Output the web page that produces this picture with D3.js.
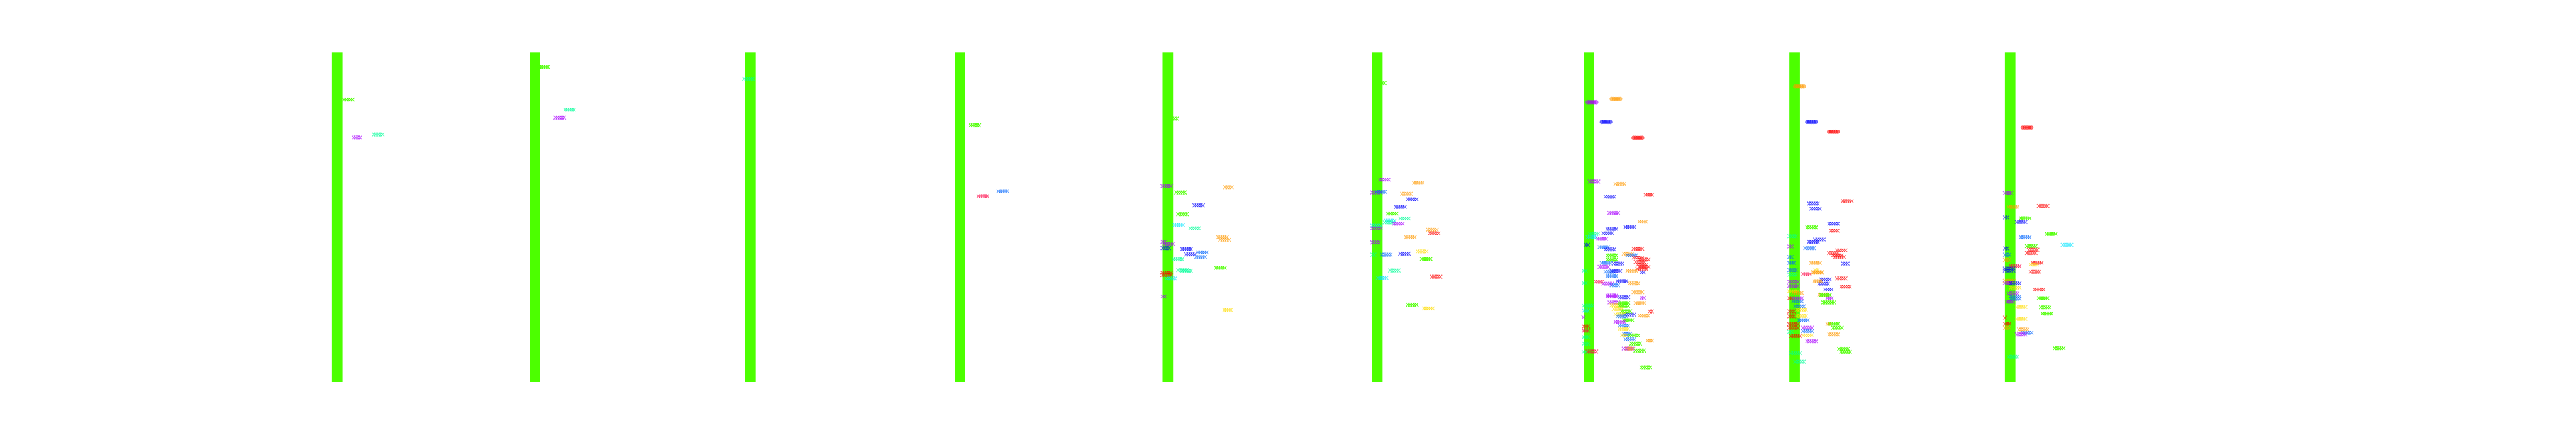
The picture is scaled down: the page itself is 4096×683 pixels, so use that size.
<!DOCTYPE html>
<html><head><meta charset="utf-8">
<script src="https://cdn.jsdelivr.net/npm/d3@7"></script>
<style>html,body{margin:0;padding:0;background:#fff;overflow:hidden}</style>
</head><body>
<svg id="chart" width="4096" height="683"></svg>
<script>
// Bar (group) positions along the x axis (figure inches)
const barX = [7.855, 12.46, 17.48, 22.36, 27.20, 32.08, 37.01, 41.80, 46.82];
const barRange = [0, 100];
// Colour keys
const colorKeys = ["R","O","Y","G","A","C","L","B","P","K"];
const colorValues = ["#ff0000","#ff9900","#ffdd00","#4cff00","#00ff99","#00e5ff","#0066ff","#0000ff","#aa00ff","#ff0044"];

// Cross-marker groups per bar: [offset from bar, value, colour, count]
const p1 = [[0.258,85.7,"G",5],[0.458,74.2,"P",4],[0.953,75.1,"A",5]];
const p2 = [[0.20,95.6,"G",5],[0.807,82.6,"A",5],[0.578,80.2,"P",5]];
const p3 = [[-0.047,92.0,"A",5]];
const p4 = [[0.348,77.9,"G",5],[0.533,56.4,"K",5],[0.998,57.9,"L",5]];
const p5 = [[0.11,79.9,"G",5],[-0.027,59.4,"P",5],[1.413,59.1,"O",4],[0.298,57.5,"G",5],[0.72,53.6,"B",5],
  [0.343,50.9,"G",5],[0.253,47.6,"C",5],[0.623,46.6,"A",5],[1.273,43.9,"O",5],[1.323,43.1,"O",5],
  [-0.097,42.5,"P",2],[0.02,41.9,"P",5],[-0.047,40.6,"B",4],[0.438,40.3,"B",5],[0.528,38.7,"B",5],
  [0.805,39.3,"L",5],[0.763,37.9,"L",5],[0.233,37.2,"A",5],[1.228,34.6,"G",5],[0.343,33.9,"A",5],
  [0.438,33.7,"A",5],[-0.027,33.1,"R",5],[-0.027,32.4,"R",5],[0.07,31.4,"C",5],[-0.097,25.9,"P",2],
  [1.393,21.8,"Y",4]];
const p6 = [[0.12,90.7,"G",3],[0.163,61.4,"P",5],[0.953,60.4,"O",5],[-0.02,57.5,"P",5],[0.08,57.7,"L",5],
  [0.677,57.1,"O",5],[0.813,55.4,"B",5],[0.537,53.1,"B",5],[0.348,51.1,"G",5],[0.632,49.6,"A",5],
  [0.298,48.9,"C",5],[0.27,48.4,"A",5],[0.49,48.0,"P",5],[1.282,46.2,"O",5],[1.323,45.1,"R",5],
  [-0.02,47.4,"C",5],[-0.02,46.6,"P",5],[0.77,43.9,"O",5],[-0.043,42.3,"P",4],[-0.09,38.6,"A",2],
  [0.208,38.6,"L",5],[0.632,38.9,"B",5],[1.043,39.6,"Y",5],[1.138,37.3,"G",5],[0.395,33.8,"A",5],
  [0.113,31.6,"C",5],[1.37,31.9,"R",5],[0.813,23.4,"G",5],[1.187,22.3,"Y",5]];
const p7 = [[0.117,60.8,"P",5],[0.72,60.1,"O",5],[1.395,56.8,"R",4],[0.487,56.2,"B",5],[0.578,51.3,"P",5],
  [1.252,48.6,"O",4],[0.952,47.0,"B",5],[0.532,46.4,"B",5],[0.437,45.1,"B",5],[0.117,45.0,"A",5],
  [0.07,43.9,"C",5],[0.302,43.4,"P",5],[-0.05,41.6,"B",2],[0.348,40.9,"L",5],[0.487,40.2,"B",5],
  [1.14,40.4,"R",5],[0.91,38.9,"O",5],[0.998,38.4,"L",5],[0.533,38.4,"G",5],[0.533,37.1,"G",5],
  [1.14,37.7,"R",5],[1.285,37.1,"R",5],[1.187,36.4,"R",5],[1.235,35.5,"R",5],[1.285,34.9,"R",5],
  [1.23,34.3,"R",5],[0.397,36.1,"L",5],[0.677,35.9,"B",5],[0.348,34.9,"P",5],[-0.097,33.7,"A",2],
  [0.487,33.4,"L",5],[0.628,33.6,"B",5],[0.998,33.7,"O",5],[1.252,33.2,"B",2],[0.532,32.1,"L",5],
  [0.767,30.6,"B",5],[-0.097,30.0,"A",2],[0.232,30.4,"K",4],[0.437,29.8,"P",5],[0.603,29.3,"L",4],
  [1.047,29.9,"O",5],[1.14,27.2,"O",5],[0.532,25.9,"P",5],[0.532,26.2,"P",5],[0.815,25.7,"B",5],
  [1.252,25.5,"P",2],[-0.023,23.1,"A",5],[0.582,24.1,"P",5],[0.623,23.2,"Y",5],[0.815,23.9,"G",5],
  [0.815,23.1,"G",5],[1.187,23.9,"O",5],[-0.068,21.6,"C",3],[0.677,22.1,"Y",5],[0.862,21.4,"G",5],
  [1.44,21.4,"R",2],[0.948,20.4,"B",5],[0.72,20.5,"Y",5],[0.767,19.9,"L",5],[1.278,20.1,"O",5],
  [-0.13,19.6,"P",1],[0.91,18.7,"G",5],[0.72,18.2,"P",5],[0.815,17.1,"L",5],[-0.068,16.8,"R",3],
  [-0.068,15.5,"K",3],[0.815,16.1,"Y",5],[0.887,14.6,"L",4],[1.047,14.1,"G",5],[0.818,14.1,"Y",3],
  [0.952,12.9,"L",5],[-0.068,13.6,"A",3],[1.42,12.5,"O",3],[1.09,11.6,"G",5],[-0.068,11.6,"A",3],
  [0.91,10.1,"P",5],[0.96,10.1,"O",4],[1.182,9.5,"G",5],[-0.1,9.1,"A",2],[0.07,9.2,"K",5],
  [1.323,4.4,"G",5]];
const p8 = [[0.438,54.1,"B",5],[0.488,52.6,"B",5],[1.228,54.9,"R",5],[0.907,48.0,"B",5],[0.925,45.9,"R",4],
  [0.395,46.9,"G",5],[-0.047,44.2,"A",4],[0.438,42.5,"B",5],[0.578,43.2,"B",5],[-0.097,41.1,"P",2],
  [0.35,40.6,"L",5],[0.903,39.1,"R",5],[1.088,39.9,"R",5],[0.997,38.4,"R",5],[1.045,37.9,"R",5],
  [-0.097,37.9,"L",2],[-0.072,36.1,"L",3],[0.488,36.1,"O",5],[1.183,35.9,"B",3],[0.51,33.9,"Y",2],
  [0.533,33.1,"O",5],[0.533,33.3,"O",5],[-0.047,33.9,"L",4],[-0.047,32.5,"A",4],[0.275,32.7,"K",4],
  [1.088,31.4,"R",5],[0.72,31.1,"B",5],[0.675,29.8,"B",5],[0.535,30.6,"O",4],[1.187,28.9,"R",5],
  [-0.025,30.4,"P",5],[-0.025,29.1,"P",5],[0.787,28.0,"B",4],[-0.025,27.5,"Y",5],[0.067,27.0,"O",5],
  [0.675,26.5,"O",5],[0.72,26.4,"G",5],[-0.097,25.4,"R",2],[0.067,25.4,"P",5],[0.813,25.4,"P",3],
  [0.067,24.4,"L",5],[0.767,24.1,"G",5],[0.813,24.1,"G",5],[0.113,22.9,"L",5],[0.162,21.9,"Y",5],
  [-0.072,21.4,"R",3],[-0.072,19.9,"R",3],[0.162,20.0,"Y",5],[0.208,18.7,"L",5],[-0.025,17.5,"R",5],
  [-0.025,16.4,"R",5],[-0.097,15.2,"A",2],[0.02,13.9,"R",5],[0.30,16.4,"P",5],[0.30,15.4,"L",5],
  [0.30,14.1,"Y",5],[0.397,12.3,"P",5],[0.908,17.6,"G",5],[0.793,17.5,"O",2],[0.997,16.4,"G",5],
  [0.908,14.4,"O",5],[1.138,10.0,"G",5],[1.187,9.1,"G",5],[0.02,8.7,"A",5],[0.113,6.1,"A",5]];
const p9 = [[-0.048,57.3,"P",4],[0.068,53.1,"O",5],[0.768,53.4,"R",5],[-0.093,49.9,"B",2],[0.352,49.7,"G",5],
  [0.255,48.5,"B",5],[0.955,44.9,"G",5],[0.352,43.9,"L",5],[1.323,41.6,"C",5],[0.492,41.2,"G",5],
  [-0.093,40.5,"B",2],[0.533,40.1,"R",5],[0.492,39.1,"R",5],[-0.07,38.6,"L",3],[-0.07,37.0,"O",3],
  [0.63,36.1,"R",5],[0.553,35.6,"Y",4],[0.118,35.1,"K",5],[-0.023,34.4,"B",5],[-0.023,33.8,"B",5],
  [0.58,33.4,"R",5],[-0.023,30.7,"O",5],[-0.048,30.0,"P",4],[0.118,29.9,"B",5],[0.118,28.6,"Y",5],
  [0.673,28.0,"R",5],[0.068,26.8,"P",5],[0.118,25.9,"L",5],[0.118,25.2,"L",5],[0.0,24.3,"P",4],
  [0.768,25.4,"G",5],[0.255,22.7,"Y",5],[0.817,22.6,"G",5],[0.858,20.7,"G",5],[-0.12,19.5,"R",1],
  [0.255,19.1,"Y",5],[-0.07,17.6,"R",3],[-0.07,16.4,"O",3],[0.303,15.9,"O",5],[0.397,14.9,"L",5],
  [0.255,14.4,"P",5],[1.142,10.2,"G",5],[0.068,7.6,"A",5]];
const crossGroups = [p1, p2, p3, p4, p5, p6, p7, p8, p9];

// Circle-marker groups: [bar index, offset, value, colour, count]
const circleGroups = [[6,0.07,84.9,"P",5],[6,0.628,85.9,"O",5],[6,0.397,78.9,"B",5],[6,1.14,74.1,"R",5],
  [7,0.113,89.7,"O",5],[7,0.392,78.9,"B",5],[7,0.903,75.9,"R",5],
  [8,0.393,77.2,"R",5]];

const W = 4096, H = 683;
const x = d3.scaleLinear().domain([0, 60]).range([0, W]);
const y = d3.scaleLinear().domain([0, 100]).range([888 * H / 1000, 122 * H / 1000]);
const color = d3.scaleOrdinal().domain(colorKeys).range(colorValues);
const unit = x(1) - x(0);          // px per inch
const barW = 0.245 * unit;
const step = 0.05;                 // spacing between repeated markers (inches)
const ms = 0.085 * unit;           // marker size
const h = ms / 2;

const svg = d3.select("#chart");

svg.append("g").selectAll("rect").data(barX).join("rect")
  .attr("x", d => x(d) - barW / 2)
  .attr("y", y(barRange[1]))
  .attr("width", barW)
  .attr("height", y(barRange[0]) - y(barRange[1]))
  .attr("fill", "#4cff00");

function expand(bi, g) {
  const [dx, v, c, n] = g;
  const pts = [];
  for (let i = 0; i < n; i++) pts.push({x: barX[bi] + dx + (i - (n - 1) / 2) * step, v, c});
  return pts;
}

const crossPts = [];
crossGroups.forEach((arr, bi) => arr.forEach(g => crossPts.push(...expand(bi, g))));
const circlePts = [];
circleGroups.forEach(g => circlePts.push(...expand(g[0], g.slice(1))));

svg.append("g").selectAll("circle").data(circlePts).join("circle")
  .attr("cx", d => x(d.x)).attr("cy", d => y(d.v)).attr("r", h * 1.05)
  .attr("fill", d => color(d.c)).attr("fill-opacity", 0.55)
  .attr("stroke", d => color(d.c)).attr("stroke-opacity", 0.55).attr("stroke-width", 0.6);

svg.append("g").selectAll("path").data(crossPts).join("path")
  .attr("transform", d => `translate(${x(d.x)},${y(d.v)})`)
  .attr("d", `M${-h},${-h}L${h},${h}M${-h},${h}L${h},${-h}`)
  .attr("fill", "none")
  .attr("stroke", d => color(d.c))
  .attr("stroke-opacity", d => d.c === "G" ? 0.9 : 0.62)
  .attr("stroke-width", 1.25);
</script>
</body></html>
